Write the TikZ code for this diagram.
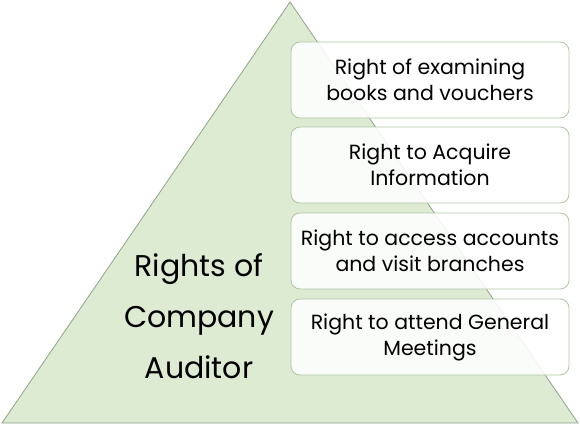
\documentclass[tikz,border=0pt]{standalone}
\usepackage{fontspec}
\setmainfont{Poppins}
\definecolor{trifill}{HTML}{DDEBD3}
\definecolor{tridraw}{HTML}{8FA38A}
\definecolor{boxdraw}{HTML}{AFC6A2}
\tikzset{
  ritem/.style={draw=boxdraw, line width=0.8pt, fill=white, fill opacity=0.88, text opacity=1,
    rounded corners=9pt, minimum width=278pt, minimum height=76pt, align=center,
    font=\fontsize{20.5}{26}\selectfont, text=black, inner sep=0pt},
  bigtext/.style={align=center, font=\fontsize{30}{51}\selectfont, text=black}
}
\begin{document}
\begin{tikzpicture}[x=1pt,y=-1pt]
\useasboundingbox (0,0) rectangle (580,428);
\coordinate (apex) at (290,2);
\coordinate (bl) at (2,423);
\coordinate (br) at (578,423);
\draw[draw=tridraw, fill=trifill, line width=0.8pt] (apex) -- (bl) -- (br) -- cycle;
\node[ritem] (r1) at (430,80) {Right of examining\\books and vouchers};
\node[ritem] (r2) at (430,165) {Right to Acquire\\Information};
\node[ritem] (r3) at (430,251) {Right to access accounts\\and visit branches};
\node[ritem] (r4) at (430,337) {Right to attend General\\Meetings};
\node[bigtext] (main) at (199,316) {Rights of\\Company\\Auditor};
\end{tikzpicture}
\end{document}
